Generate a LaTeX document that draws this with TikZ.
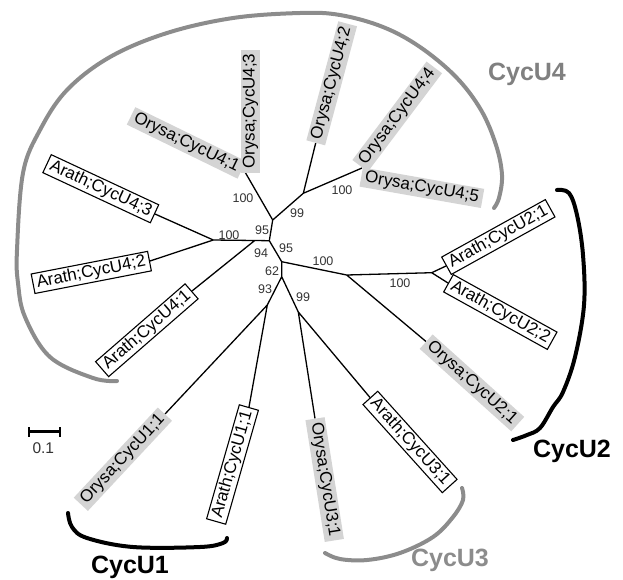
\documentclass[tikz,border=0pt]{standalone}
\usepackage{fontspec}
\setmainfont{Liberation Sans}
\begin{document}
\begin{tikzpicture}[x=1pt,y=-1pt,
  br/.style={line width=1.3pt, black},
  bs/.style={font=\fontsize{12.5}{14}\selectfont, text=black!80, inner sep=0pt},
  orysa/.style={fill=black!17, font=\fontsize{17}{19}\selectfont, inner xsep=4pt, inner ysep=2pt},
  arath/.style={draw=black, line width=1.1pt, font=\fontsize{17}{19}\selectfont, inner xsep=4pt, inner ysep=2pt},
  clgray/.style={line width=4pt, color=black!45, line cap=round},
  clblack/.style={line width=4pt, black, line cap=round},
  cllab/.style={font=\bfseries\fontsize{25}{28}\selectfont}]
\useasboundingbox (0,0) rectangle (623,579);
% internal nodes
\coordinate (C) at (269.3,240.7);
\coordinate (A) at (272.7,220);
\coordinate (B) at (303.3,193.3);
\coordinate (K) at (254.7,240.5);
\coordinate (D) at (213.3,240);
\coordinate (E) at (281.7,261.7);
\coordinate (F) at (281.7,276.7);
\coordinate (G) at (267.3,305);
\coordinate (H) at (298.3,312);
\coordinate (I) at (346.7,275);
\coordinate (J) at (431.7,272.7);
% tips
\coordinate (t41) at (245,172);
\coordinate (t42) at (315.7,143);
\coordinate (t45) at (362,168);
\coordinate (ta43) at (155,214);
\coordinate (ta42) at (150,261);
\coordinate (ta41) at (192,291);
\coordinate (to11) at (165,414);
\coordinate (ta11) at (249,407);
\coordinate (to31) at (315,418.5);
\coordinate (ta31) at (370,397.5);
\coordinate (to21) at (426,341.5);
\coordinate (ta21) at (446,266);
\coordinate (ta22) at (448,283);
% branches
\draw[br] (C) -- (A) (A) -- (t41) (A) -- (B) (B) -- (t42) (B) -- (t45);
\draw[br] (C) -- (K) (K) -- (D) (D) -- (ta43) (D) -- (ta42) (K) -- (ta41);
\draw[br] (C) -- (E) (E) -- (I) (I) -- (J) (J) -- (ta21) (J) -- (ta22) (I) -- (to21);
\draw[br] (E) -- (F) (F) -- (G) (G) -- (to11) (G) -- (ta11) (F) -- (H) (H) -- (to31) (H) -- (ta31);
% leaf labels
\node[orysa, rotate=-26, anchor=east] (o41) at (242,170) {Orysa;CycU4;1};
\node[orysa, rotate=90, anchor=west] (o43) at (250.5,173) {Orysa;CycU4;3};
\node[orysa, rotate=75, anchor=west] (o42) at (t42) {Orysa;CycU4;2};
\node[orysa, rotate=53, anchor=west] (o44) at (360,166) {Orysa;CycU4;4};
\node[orysa, rotate=-10, anchor=west] (o45) at (361,177) {Orysa;CycU4;5};
\node[arath, rotate=-25, anchor=east] (a43) at (ta43) {Arath;CycU4;3};
\node[arath, rotate=11, anchor=east] (a42) at (ta42) {Arath;CycU4;2};
\node[arath, rotate=41, anchor=east] (a41) at (ta41) {Arath;CycU4;1};
\node[orysa, rotate=47, anchor=east] (o11) at (to11) {Orysa;CycU1;1};
\node[arath, rotate=74, anchor=east] (a11) at (ta11) {Arath;CycU1;1};
\node[orysa, rotate=-81, anchor=west] (o31) at (to31) {Orysa;CycU3;1};
\node[arath, rotate=-48, anchor=west] (a31) at (ta31) {Arath;CycU3;1};
\node[orysa, rotate=-42, anchor=west] (o21) at (to21) {Orysa;CycU2;1};
\node[arath, rotate=29, anchor=west] (a21) at (ta21) {Arath;CycU2;1};
\node[arath, rotate=-29, anchor=west] (a22) at (ta22) {Arath;CycU2;2};
% bootstrap values
\node[bs] (b1) at (243,198) {100};
\node[bs] (b2) at (297,213) {99};
\node[bs] (b3) at (342,190) {100};
\node[bs] (b4) at (262,230) {95};
\node[bs] (b5) at (229,235) {100};
\node[bs] (b6) at (261,253) {94};
\node[bs] (b7) at (286,248) {95};
\node[bs] (b8) at (272,271) {62};
\node[bs] (b9) at (265,289) {93};
\node[bs] (b10) at (303,297) {99};
\node[bs] (b11) at (323,261) {100};
\node[bs] (b12) at (400,283) {100};
% clade brackets
\draw[clgray] plot[smooth, tension=0.6] coordinates {(117,381) (93,378) (50,357) (25,317) (18,283) (17,250) (23,173) (40,130) (67,90) (110,57) (167,33) (233,18) (300,13) (340,15) (383,27) (420,47) (456,77) (481,110) (496,145) (502,175) (499,198) (494,208)};
\draw[clblack] plot[smooth, tension=0.6] coordinates {(557,190) (569,193) (577,215) (583,255) (584,305) (575,357) (563,392) (553,407) (540,428) (527,435) (513,440)};
\draw[clblack] plot[smooth, tension=0.6] coordinates {(68,513) (72,527) (87,538) (133,547) (200,547) (223,543) (227,538)};
\draw[clgray] plot[smooth, tension=0.6] coordinates {(462,488) (463,500) (453,517) (433,537) (400,553) (367,560) (340,559) (325,553)};
\node[cllab, text=black!50] (lU4) at (527,74) {CycU4};
\node[cllab] (lU2) at (572,451) {CycU2};
\node[cllab] (lU1) at (130,567) {CycU1};
\node[cllab, text=black!45] (lU3) at (450,560) {CycU3};
% scale bar
\coordinate (s1) at (29.3,431.7);
\coordinate (s2) at (60,431.7);
\draw[line width=2.8pt] (s1) -- (s2);
\draw[line width=2pt] (29.3,427) -- (29.3,436.5) (60,427) -- (60,436.5);
\node[font=\fontsize{15.5}{17}\selectfont, text=black!80] (sc) at (43.3,448.3) {0.1};
\end{tikzpicture}
\end{document}
